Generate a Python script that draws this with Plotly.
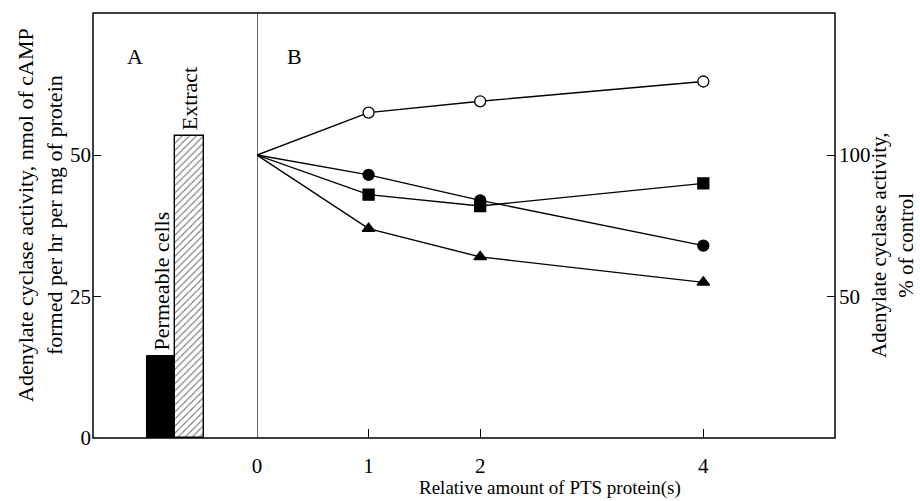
import plotly.graph_objects as go

# Panel A data (nmol cAMP / hr / mg protein)
bar_labels = ["Permeable cells", "Extract"]
bar_values = [14.5, 53.4]

# Panel B data (% of control)
pts_amount = [0, 1, 2, 4]
open_circle = [100, 115, 119, 126]
filled_circle = [100, 93, 84, 68]
filled_square = [100, 86, 82, 90]
filled_triangle = [100, 74, 64, 55]

FONT = "Liberation Serif"
BLACK = "black"

fig = go.Figure()

# Panel A bars
fig.add_trace(go.Bar(
    x=[bar_labels[0]], y=[bar_values[0]], width=1,
    marker=dict(color=BLACK, line=dict(color=BLACK, width=1)),
    xaxis="x", yaxis="y", showlegend=False))
fig.add_trace(go.Bar(
    x=[bar_labels[1]], y=[bar_values[1]], width=1,
    marker=dict(color="white", line=dict(color=BLACK, width=1.4),
                pattern=dict(shape="/", fgcolor=BLACK, bgcolor="white",
                             size=5, solidity=0.22)),
    xaxis="x", yaxis="y", showlegend=False))

# Panel B lines
series = [
    (open_circle, "circle", "white"),
    (filled_circle, "circle", BLACK),
    (filled_square, "square", BLACK),
    (filled_triangle, "triangle-up", BLACK),
]
line_traces = []
marker_traces = []
for vals, sym, fill in series:
    line_traces.append(go.Scatter(
        x=pts_amount, y=vals, mode="lines",
        line=dict(color=BLACK, width=1.4),
        xaxis="x2", yaxis="y2", showlegend=False, cliponaxis=False))
    marker_traces.append(go.Scatter(
        x=pts_amount[1:], y=vals[1:], mode="markers",
        marker=dict(symbol=sym, size=11, color=fill,
                    line=dict(color=BLACK, width=1.3)),
        xaxis="x2", yaxis="y2", showlegend=False, cliponaxis=False))
for t in line_traces + marker_traces:
    fig.add_trace(t)

splitA = (257 - 93) / 742.0

tickfont = dict(family=FONT, size=21, color=BLACK)

fig.update_layout(
    width=920, height=501,
    margin=dict(l=93, r=85, t=13, b=63),
    paper_bgcolor="white", plot_bgcolor="white",
    font=dict(family=FONT, color=BLACK),
    bargap=0,
    xaxis=dict(domain=[0, splitA], type="category",
               categoryorder="array", categoryarray=bar_labels,
               range=[-2.386, 3.368], showticklabels=False, ticks="",
               showgrid=False, zeroline=False, showline=False, anchor="y"),
    yaxis=dict(domain=[0, 1], range=[0, 75.1], tickvals=[0, 25, 50],
               ticks="inside", ticklen=8, tickwidth=1.2, tickcolor=BLACK,
               tickfont=tickfont, showgrid=False, zeroline=False,
               showline=False, anchor="x", ticklabelstandoff=1),
    xaxis2=dict(domain=[splitA, 1], range=[0, 5.18], tickvals=[0, 1, 2, 4],
                ticks="inside", ticklen=9, tickwidth=1.2, tickcolor=BLACK,
                tickfont=tickfont, showgrid=False, zeroline=False,
                showline=False, anchor="y2", ticklabelstandoff=13),
    yaxis2=dict(domain=[0, 1], range=[0, 150.2], tickvals=[50, 100],
                ticks="inside", ticklen=8, tickwidth=1.2, tickcolor=BLACK,
                tickfont=tickfont, showgrid=False, zeroline=False,
                showline=False, anchor="x2", side="right",
                ticklabelstandoff=3),
)

# Frame and divider
fig.add_shape(type="rect", xref="paper", yref="paper", x0=0, x1=1, y0=0, y1=1,
              line=dict(color=BLACK, width=1.5), layer="above")
fig.add_shape(type="line", xref="x2", yref="paper", x0=0, x1=0, y0=0, y1=1,
              line=dict(color=BLACK, width=1.2), layer="above")

ann_font = dict(family=FONT, size=22, color=BLACK)
fig.add_annotation(text="A", xref="paper", yref="paper",
                   x=(125 - 93) / 742.0, y=(438 - 42) / 425.0,
                   showarrow=False, font=ann_font)
fig.add_annotation(text="B", xref="paper", yref="paper",
                   x=(285 - 93) / 742.0, y=(438 - 42) / 425.0,
                   showarrow=False, font=ann_font)

# Bar labels
for lbl, val in zip(bar_labels, bar_values):
    fig.add_annotation(text=lbl, xref="x", yref="y", x=lbl, y=val,
                       textangle=-90, yanchor="bottom", xanchor="center",
                       yshift=3, showarrow=False,
                       font=dict(family=FONT, size=22, color=BLACK))

# Axis titles
fig.add_annotation(
    text="Adenylate cyclase activity, nmol of cAMP<br>formed per hr per mg of protein",
    xref="paper", yref="paper", x=(40 - 93) / 742.0, y=(438 - 215) / 425.0,
    textangle=-90, showarrow=False, xanchor="center", yanchor="middle",
    font=dict(family=FONT, size=22, color=BLACK))
fig.add_annotation(
    text="Adenylate cyclase activity,<br>% of control",
    xref="paper", yref="paper", x=(892 - 93) / 742.0, y=(438 - 246) / 425.0,
    textangle=-90, showarrow=False, xanchor="center", yanchor="middle",
    font=dict(family=FONT, size=21, color=BLACK))
fig.add_annotation(
    text="Relative amount of PTS protein(s)",
    xref="paper", yref="paper", x=(550 - 93) / 742.0, y=(438 - 488) / 425.0,
    showarrow=False, xanchor="center", yanchor="middle",
    font=dict(family=FONT, size=19, color=BLACK))

fig.write_html("out.html")
